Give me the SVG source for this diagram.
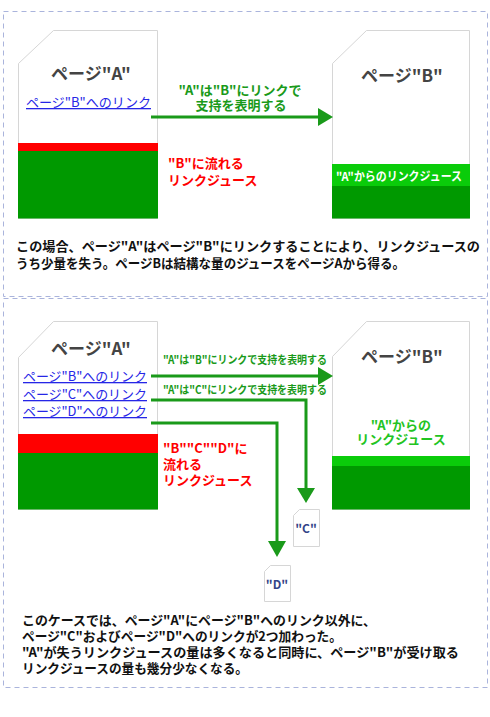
<svg xmlns="http://www.w3.org/2000/svg" width="490" height="717" viewBox="0 0 490 717">
<style>
text{font-family:"Noto Sans CJK JP","Noto Sans",sans-serif;}
.panel{fill:#fff;stroke:#aab4dc;stroke-width:1;stroke-dasharray:5 4;}
.page{fill:#fff;stroke:#d6d6d6;stroke-width:1;}
.title{font-size:17px;font-weight:bold;fill:#444;text-anchor:middle;}
.link{font-size:13px;fill:#2626e6;text-decoration:underline;}
.glabel{font-size:13px;font-weight:bold;fill:#1a9a1a;text-anchor:middle;}
.slabel{font-size:11px;font-weight:bold;fill:#1a9a1a;}
.rlabel{font-size:13px;font-weight:bold;fill:#ff0000;}
.para{font-size:13px;font-weight:bold;fill:#111;}
.small{font-size:12px;font-weight:bold;fill:#334488;text-anchor:middle;}
.conn{fill:none;stroke:#1a9a1a;stroke-width:3;}
</style>
<rect class="panel" x="3.5" y="11.5" width="484" height="285"/>
<rect class="panel" x="3.5" y="298.5" width="484" height="389"/>

<g id="p1-pageA">
<path class="page" d="M18.5,63.5 L53.5,30.5 L157.5,30.5 L157.5,218.5 L18.5,218.5 Z"/>
<rect x="18" y="143" width="140" height="8" fill="#ff0000"/>
<rect x="18" y="151" width="140" height="67.5" fill="#009900"/>
<text class="title" x="91" y="80">ページ"A"</text>
<text class="link" x="26" y="107" textLength="125" lengthAdjust="spacingAndGlyphs">ページ"B"へのリンク</text>
</g>
<g id="p1-pageB">
<path class="page" d="M332.5,63.5 L366.5,30.5 L469.5,30.5 L469.5,218.5 L332.5,218.5 Z"/>
<rect x="332" y="164" width="138" height="22" fill="#0acc0a"/>
<rect x="332" y="186" width="138" height="32.5" fill="#009900"/>
<text class="title" x="402" y="82">ページ"B"</text>
<text x="336" y="181" font-size="12" font-weight="bold" fill="#fff" textLength="126" lengthAdjust="spacingAndGlyphs">"A"からのリンクジュース</text>
</g>
<g id="p1-labels">
<text class="glabel" x="240" y="95">"A"は"B"にリンクで</text>
<text class="glabel" x="241" y="110">支持を表明する</text>
<text class="rlabel" x="168" y="168">"B"に流れる</text>
<text class="rlabel" x="168" y="185">リンクジュース</text>
<text class="para" x="16" y="251" textLength="464" lengthAdjust="spacingAndGlyphs">この場合、ページ"A"はページ"B"にリンクすることにより、リンクジュースの</text>
<text class="para" x="16" y="268" textLength="389" lengthAdjust="spacingAndGlyphs">うち少量を失う。ページBは結構な量のジュースをページAから得る。</text>
</g>

<g id="p2-pageA">
<path class="page" d="M18.5,357.5 L53.5,321.5 L157.5,321.5 L157.5,509.5 L18.5,509.5 Z"/>
<rect x="18" y="434" width="140" height="19" fill="#ff0000"/>
<rect x="18" y="453" width="140" height="56.5" fill="#009900"/>
<text class="title" x="91" y="355">ページ"A"</text>
<text class="link" x="23" y="381" textLength="124" lengthAdjust="spacingAndGlyphs">ページ"B"へのリンク</text>
<text class="link" x="23" y="399" textLength="124" lengthAdjust="spacingAndGlyphs">ページ"C"へのリンク</text>
<text class="link" x="23" y="416" textLength="124" lengthAdjust="spacingAndGlyphs">ページ"D"へのリンク</text>
</g>
<g id="p2-pageB">
<path class="page" d="M332.5,356.5 L366.5,321.5 L469.5,321.5 L469.5,509.5 L332.5,509.5 Z"/>
<rect x="332" y="456" width="138" height="10" fill="#0acc0a"/>
<rect x="332" y="466" width="138" height="43.5" fill="#009900"/>
<text class="title" x="402" y="363">ページ"B"</text>
<text x="401" y="430" font-size="13" font-weight="bold" fill="#22c422" text-anchor="middle">"A"からの</text>
<text x="401" y="444" font-size="13" font-weight="bold" fill="#22c422" text-anchor="middle">リンクジュース</text>
</g>
<g id="p2-pageC">
<path class="page" d="M293.5,515.5 L299.5,509.5 L319.5,509.5 L319.5,546.5 L293.5,546.5 Z"/>
<text class="small" x="306" y="533">"C"</text>
</g>
<g id="p2-pageD">
<path class="page" d="M264.5,571.5 L270.5,565.5 L290.5,565.5 L290.5,601.5 L264.5,601.5 Z"/>
<text class="small" x="277" y="589">"D"</text>
</g>

<g id="connectors">
<path d="M151,117 L318,117" class="conn"/>
<path d="M318,108 L333,117 L318,126 Z" fill="#1a9a1a"/>
<path d="M151,376 L318,376" class="conn"/>
<path d="M318,367 L333,376 L318,385 Z" fill="#1a9a1a"/>
<path d="M151,400 L306,400 L306,488" class="conn"/>
<path d="M297,488 L315,488 L306,503 Z" fill="#1a9a1a"/>
<path d="M151,423 L277,423 L277,541" class="conn"/>
<path d="M268,541 L286,541 L277,557 Z" fill="#1a9a1a"/>
</g>

<g id="p2-labels">
<text class="slabel" x="163" y="364" textLength="164" lengthAdjust="spacingAndGlyphs">"A"は"B"にリンクで支持を表明する</text>
<text class="slabel" x="163" y="394" textLength="164" lengthAdjust="spacingAndGlyphs">"A"は"C"にリンクで支持を表明する</text>
<text class="rlabel" x="163" y="453">"B""C""D"に</text>
<text class="rlabel" x="163" y="469">流れる</text>
<text class="rlabel" x="163" y="485">リンクジュース</text>
<text class="para" x="22" y="625" textLength="354" lengthAdjust="spacingAndGlyphs">このケースでは、ページ"A"にページ"B"へのリンク以外に、</text>
<text class="para" x="22" y="641" textLength="320" lengthAdjust="spacingAndGlyphs">ページ"C"およびページ"D"へのリンクが2つ加わった。</text>
<text class="para" x="22" y="657" textLength="437" lengthAdjust="spacingAndGlyphs">"A"が失うリンクジュースの量は多くなると同時に、ページ"B"が受け取る</text>
<text class="para" x="22" y="673" textLength="226" lengthAdjust="spacingAndGlyphs">リンクジュースの量も幾分少なくなる。</text>
</g>
</svg>
